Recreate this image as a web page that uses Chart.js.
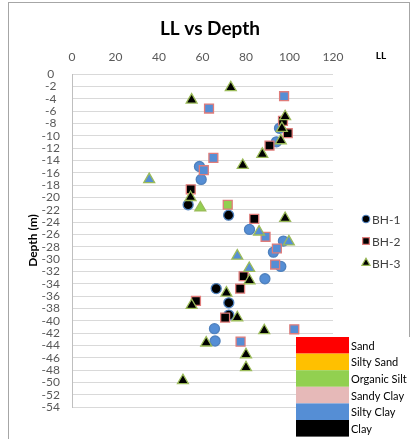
<!doctype html>
<html lang="en">
<head>
	<meta charset="utf-8">
	<title>LL vs Depth</title>
	<style>
		* {
			margin: 0;
			padding: 0;
		}

		body {
			background: #fff;
		}

		.chartBox {
			width: 411px;
			height: 439px;
		}
	</style>
</head>

<body>
	<div class="chartBox">
		<canvas id="llChart" width="411" height="439"></canvas>
	</div>

	<script src="https://cdn.jsdelivr.net/npm/chart.js"></script>
	<script>
		/*===== Data =====*/
		// BH-1 : liquid limit, depth (m), soil at each sample
		const bh1LL = [95.4, 94, 58.6, 59.4, 53.4, 72, 81.6, 97.2, 92.6, 96, 88.7, 66.3, 72.1, 72.1, 65.5, 65.8];
		const bh1Depth = [-8.8, -11, -15, -17.1, -21.2, -22.9, -25.2, -27.1, -28.9, -31.2, -33.2, -34.8, -37.1, -39.1, -41.3, -43.3];
		const bh1Soil = ['Silty Clay', 'Silty Clay', 'Silty Clay', 'Silty Clay', 'Clay', 'Clay', 'Silty Clay', 'Silty Clay',
			'Silty Clay', 'Silty Clay', 'Silty Clay', 'Clay', 'Clay', 'Clay', 'Silty Clay', 'Silty Clay'];

		// BH-2
		const bh2LL = [97.5, 63, 97, 99.2, 90.8, 65, 60.6, 54.6, 71.6, 83.8, 89, 94.2, 93.4, 78.9, 77.3, 57, 70.4, 102.2, 77.5];
		const bh2Depth = [-3.6, -5.6, -7.6, -9.6, -11.6, -13.6, -15.6, -18.7, -21.2, -23.5, -26.4, -28.3, -30.9, -32.8, -34.8, -36.8, -39.5, -41.4, -43.4];
		const bh2Soil = ['Silty Clay', 'Silty Clay', 'Clay', 'Clay', 'Clay', 'Silty Clay', 'Silty Clay', 'Clay', 'Organic Silt',
			'Clay', 'Silty Clay', 'Silty Clay', 'Silty Clay', 'Clay', 'Clay', 'Clay', 'Clay', 'Silty Clay', 'Silty Clay'];

		// BH-3
		const bh3LL = [73, 55, 98, 96.5, 96, 87.5, 78.5, 35.5, 54.5, 59, 98, 86, 99.7, 76, 81.5, 81.6, 71, 55, 76, 88.4, 61.7, 80, 80, 51];
		const bh3Depth = [-2.2, -4.2, -6.9, -8.8, -10.8, -13, -14.8, -17.1, -20, -21.7, -23.4, -25.6, -27.2, -29.5, -31.5, -33.5,
			-35.5, -37.5, -39.5, -41.6, -43.6, -45.5, -47.6, -49.7];
		const bh3Soil = ['Clay', 'Clay', 'Clay', 'Clay', 'Clay', 'Clay', 'Clay', 'Silty Clay', 'Clay', 'Organic Silt', 'Clay',
			'Silty Clay', 'Silty Clay', 'Silty Clay', 'Silty Clay', 'Clay', 'Clay', 'Clay', 'Clay', 'Clay', 'Clay', 'Clay', 'Clay', 'Clay'];

		// soil key
		const soilNames = ['Sand', 'Silty Sand', 'Organic Silt', 'Sandy Clay', 'Silty Clay', 'Clay'];
		const soilColors = ['#ff0000', '#ffc000', '#92d050', '#e6b9b8', '#558ed5', '#000000'];

		const boreholes = ['BH-1', 'BH-2', 'BH-3'];
		const llMin = 0, llMax = 120, llStep = 20;
		const depthMin = -54, depthMax = 0, depthStep = 2;
		/*===== End Data =====*/

		const FONT = 'Lato, "Open Sans", sans-serif';

		const soilColor = name => soilColors[soilNames.indexOf(name)];
		const toPoints = (ll, depth) => ll.map((v, i) => ({x: v, y: depth[i]}));

		// marker look per borehole
		const markers = [
			{style: 'circle', radius: 5, border: '#4f81bd'},
			{style: 'rect', radius: 6.3, border: '#e07c7a'},
			{style: 'triangle', radius: 6.3, border: '#9bbb59'}
		];

		const series = [
			{ll: bh1LL, depth: bh1Depth, soil: bh1Soil},
			{ll: bh2LL, depth: bh2Depth, soil: bh2Soil},
			{ll: bh3LL, depth: bh3Depth, soil: bh3Soil}
		];

		const data = {
			datasets: series.map((s, i) => ({
				label: boreholes[i],
				data: toPoints(s.ll, s.depth),
				pointStyle: markers[i].style,
				pointRadius: markers[i].radius,
				pointHoverRadius: markers[i].radius,
				pointBorderWidth: 1.3,
				pointBorderColor: markers[i].border,
				pointBackgroundColor: s.soil.map(soilColor),
				showLine: false,
				order: 2 - i
			}))
		};

		/*===== Frame, title and keys =====*/
		const decorations = {
			id: 'decorations',
			beforeDraw(chart) {
				const {ctx} = chart;
				ctx.save();
				ctx.fillStyle = '#fff';
				ctx.fillRect(0, 0, chart.width, chart.height);
				ctx.restore();
			},
			afterDraw(chart) {
				const {ctx} = chart;
				ctx.save();

				// outer frame
				ctx.strokeStyle = '#a6a6a6';
				ctx.lineWidth = 1;
				ctx.strokeRect(8.5, 2.5, 401, 450);

				// title
				ctx.fillStyle = '#000';
				ctx.font = 'bold 19px ' + FONT;
				ctx.textAlign = 'center';
				ctx.textBaseline = 'middle';
				ctx.fillText('LL vs Depth', 210, 29);

				// x axis name
				ctx.font = 'bold 10px ' + FONT;
				ctx.fillText('LL', 381, 56);

				// borehole key
				ctx.font = '12px ' + FONT;
				ctx.textAlign = 'left';
				boreholes.forEach((name, i) => {
					const y = 219 + i * 22;
					ctx.fillStyle = '#000';
					ctx.strokeStyle = markers[i].border;
					ctx.lineWidth = 1.2;
					Chart.helpers.drawPoint(ctx, {
						pointStyle: markers[i].style,
						radius: markers[i].radius * 0.75,
						borderWidth: 1.2,
						rotation: 0
					}, 366, y);
					ctx.fillStyle = '#404040';
					ctx.fillText(name, 372, y + 1);
				});

				// soil key
				const kx = 296, ky = 337, kw = 53, kh = 16.6;
				ctx.fillStyle = '#fff';
				ctx.fillRect(kx, ky, chart.width - kx, chart.height - ky);
				ctx.font = '11px ' + FONT;
				soilNames.forEach((name, i) => {
					ctx.fillStyle = soilColors[i];
					ctx.fillRect(kx, ky + i * kh, kw, kh);
					ctx.fillStyle = '#000';
					ctx.fillText(name, kx + 55, ky + i * kh + kh / 2 + 1);
				});

				ctx.restore();
			}
		};

		/*===== Config =====*/
		const config = {
			type: 'scatter',
			data,
			options: {
				responsive: false,
				animation: false,
				layout: {
					padding: {left: 8, top: 44, right: 78, bottom: 32}
				},
				plugins: {
					legend: {display: false},
					tooltip: {enabled: false}
				},
				scales: {
					x: {
						type: 'linear',
						position: 'top',
						min: llMin,
						max: llMax,
						grid: {display: false},
						border: {display: false},
						ticks: {
							stepSize: llStep,
							padding: 2,
							color: '#595959',
							font: {family: FONT, size: 12}
						},
						afterFit(scale) {
							scale.height = 30;
						}
					},
					y: {
						type: 'linear',
						min: depthMin,
						max: depthMax,
						grid: {color: '#d9d9d9', drawTicks: false},
						border: {color: '#bfbfbf'},
						ticks: {
							stepSize: depthStep,
							autoSkip: false,
							padding: 12,
							crossAlign: 'center',
							color: '#595959',
							font: {family: FONT, size: 12}
						},
						title: {
							display: true,
							text: 'Depth (m)',
							color: '#000',
							padding: {top: 18, bottom: 0},
							font: {family: FONT, size: 12, weight: 'bold'}
						},
						afterFit(scale) {
							scale.width = 64;
						}
					}
				}
			},
			plugins: [decorations]
		};

		const llChart = new Chart(document.getElementById('llChart'), config);
	</script>
</body>

</html>
